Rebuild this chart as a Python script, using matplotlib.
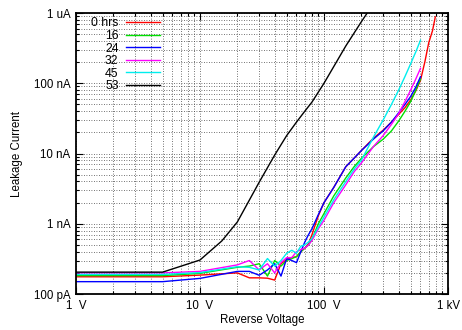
import matplotlib
matplotlib.use("Agg")
import matplotlib.pyplot as plt
from matplotlib.ticker import FixedLocator, NullFormatter

plt.rcParams['font.family'] = ['Liberation Sans', 'DejaVu Sans']
plt.rcParams['font.size'] = 8.3

# Reverse voltage (V) for the burn-in series
volts = [1, 2, 3, 4, 5, 10, 20, 25, 30, 35, 40, 45, 50, 55, 60, 65, 70, 75, 80, 90,
         100, 120, 150, 175, 200, 250, 300, 350, 400, 450, 500, 550, 600]
volts_0h = volts + [650, 700, 750, 790]
volts_53 = [1, 2, 3, 4, 5, 10, 15, 20, 30, 40, 50, 60, 70, 80, 100, 150, 200, 250]

# Leakage current (nA)
cur_0h = [0.176, 0.176, 0.176, 0.176, 0.176, 0.186, 0.20, 0.17, 0.17, 0.168, 0.158, 0.27,
          0.31, 0.33, 0.34, 0.40, 0.45, 0.52, 0.70, 1.3,
          2.0, 3.3, 6.5, 8.6, 11, 16.5, 21.5, 28, 36, 45, 58, 78, 110,
          200, 380, 560, 880]
cur_16 = [0.183, 0.183, 0.183, 0.183, 0.183, 0.197, 0.24, 0.25, 0.27, 0.18, 0.30, 0.25,
          0.30, 0.32, 0.34, 0.40, 0.45, 0.50, 0.60, 1.0,
          1.4, 2.5, 4.5, 6.5, 8.5, 12.5, 16, 21, 29, 40, 55, 80, 115]
cur_24 = [0.15, 0.15, 0.15, 0.15, 0.15, 0.167, 0.21, 0.21, 0.185, 0.22, 0.27, 0.18,
          0.32, 0.30, 0.28, 0.40, 0.55, 0.70, 0.85, 1.35,
          2.0, 3.3, 6.5, 8.6, 11, 16, 21, 28, 38, 50, 65, 88, 124]
cur_32 = [0.20, 0.20, 0.20, 0.20, 0.20, 0.21, 0.26, 0.30, 0.22, 0.27, 0.20, 0.28,
          0.33, 0.33, 0.40, 0.43, 0.45, 0.50, 0.58, 0.85,
          1.12, 2.0, 3.6, 5.5, 7.3, 12.5, 18, 26, 37, 55, 80, 115, 163]
cur_45 = [0.19, 0.19, 0.19, 0.19, 0.19, 0.202, 0.245, 0.24, 0.22, 0.32, 0.25, 0.30,
          0.38, 0.42, 0.38, 0.48, 0.50, 0.55, 0.62, 0.90,
          1.25, 2.2, 4.0, 6.0, 8.0, 17, 30, 50, 80, 125, 190, 280, 410]
cur_53 = [0.205, 0.205, 0.205, 0.205, 0.205, 0.305, 0.57, 1.06, 3.9, 9.5, 18, 28, 40, 54,
          100, 340, 750, 1350]

labels = ['0 hrs', '16', '24', '32', '45', '53']
colors = ['#ff0000', '#00e000', '#0000ff', '#ff00ff', '#00eeee', '#000000']

x_ticks = [1, 10, 100, 1000]
x_tick_labels = ['1  V', '10  V', '100  V', '1 kV']
y_ticks = [0.1, 1, 10, 100, 1000]
y_tick_labels = ['100 pA', '1 nA', '10 nA', '100 nA', '1 uA']

fig = plt.figure(figsize=(4.62, 3.30), dpi=100)
ax = fig.add_axes([0.1645, 0.109, 0.8052, 0.8516])

series = [(volts_0h, cur_0h), (volts, cur_16), (volts, cur_24),
          (volts, cur_32), (volts, cur_45), (volts_53, cur_53)]
for (v, c), lab, col in zip(series, labels, colors):
    ax.plot(v, c, color=col, lw=1.0, label=lab)

ax.set_xscale('log')
ax.set_yscale('log')
ax.set_xlim(1, 1000)
ax.set_ylim(0.1, 1000)

ax.xaxis.set_major_locator(FixedLocator(x_ticks))
ax.set_xticklabels(x_tick_labels)
ax.yaxis.set_major_locator(FixedLocator(y_ticks))
ax.set_yticklabels(y_tick_labels)
minor = [m * 10 ** e for e in range(-1, 3) for m in range(2, 10)]
ax.xaxis.set_minor_locator(FixedLocator([m for m in minor if 1 < m < 1000]))
ax.yaxis.set_minor_locator(FixedLocator(minor))
ax.xaxis.set_minor_formatter(NullFormatter())
ax.yaxis.set_minor_formatter(NullFormatter())

ax.tick_params(which='both', direction='in', top=True, right=True, width=0.8)
ax.tick_params(which='major', length=5, pad=4)
ax.tick_params(which='minor', length=2.5)
ax.grid(True, which='both', color='#444444', ls=(0, (1, 2)), lw=0.6)
for s in ax.spines.values():
    s.set_linewidth(1.3)

ax.set_xlabel('Reverse Voltage', labelpad=2)
ax.set_ylabel('Leakage Current', labelpad=8)

leg = ax.legend(loc='upper right', bbox_to_anchor=(0.236, 1.0), frameon=False,
                markerfirst=False, handlelength=2.75, handletextpad=0.6,
                labelspacing=0.05, borderaxespad=0, borderpad=0.35,
                fontsize=8.8)

fig.savefig('out.png', dpi=100)
